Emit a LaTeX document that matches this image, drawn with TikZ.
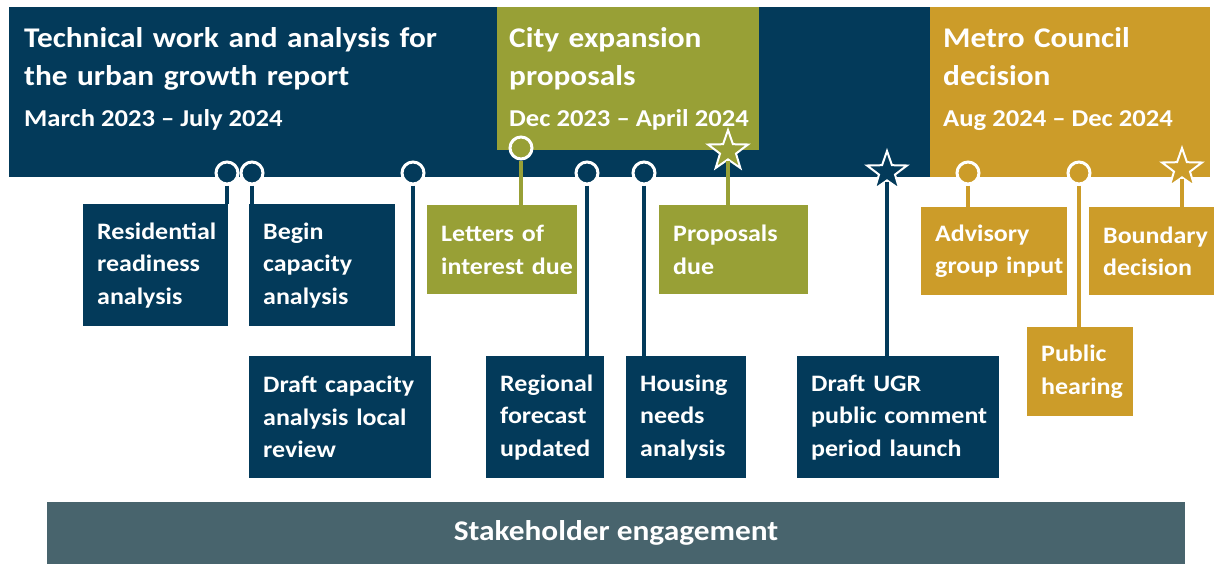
\documentclass[tikz,border=0pt]{standalone}
\usepackage{fontspec}
\setmainfont{Carlito}[FakeStretch=1.1]
\usepackage{tikz}
\usetikzlibrary{shapes.geometric}
\usepackage{xcolor}
\definecolor{navy}{HTML}{033A5A}
\definecolor{olive}{HTML}{98A036}
\definecolor{gold}{HTML}{CC9C29}
\definecolor{slate}{HTML}{48646D}
\hyphenpenalty=10000
\tikzstyle{band}=[anchor=north west,inner sep=0pt,minimum height=170pt]
\tikzstyle{head}=[anchor=base west,inner sep=0pt,align=left,text=white,font=\bfseries\fontsize{28.5}{38}\selectfont]
\tikzstyle{span}=[anchor=base west,inner sep=0pt,text=white,font=\bfseries\fontsize{24.2}{28}\selectfont]
\tikzstyle{event}=[anchor=north west,inner xsep=14pt,inner ysep=0pt,align=left,text=white,font=\bfseries\fontsize{23.6}{32.5}\selectfont]
\tikzstyle{dot}=[circle,draw=white,line width=3pt,minimum size=22pt,inner sep=0pt]
\tikzstyle{milestone}=[star,star points=5,star point ratio=2.5,draw=white,line width=2pt,minimum size=42pt,inner sep=0pt]
\tikzstyle{stem}=[line width=4pt]

\begin{document}
\begin{tikzpicture}[x=1pt,y=-1pt]
  \useasboundingbox (0,0) rectangle (1218,565);
  % phases
  \node[band,fill=navy,minimum width=922pt] (tech) at (9,7) {};
  \node[band,fill=olive,minimum width=262pt,minimum height=143pt] (city) at (497,7) {};
  \node[band,fill=gold,minimum width=280pt] (metro) at (930,7) {};
  \node[head,text width=460pt] (techT) at (24,47) {Technical work and analysis for\\the urban growth report};
  \node[span] (techD) at (24,126) {March 2023 -- July 2024};
  \node[head,text width=240pt] (cityT) at (509,47) {City expansion\\proposals};
  \node[span] (cityD) at (509,126) {Dec 2023 -- April 2024};
  \node[head,text width=260pt] (metroT) at (943,47) {Metro Council\\decision};
  \node[span] (metroD) at (943,126) {Aug 2024 -- Dec 2024};

  % events
  \node[event,fill=navy,text width=117pt,minimum height=122pt] (res) at (83,204) {Residential\\readiness\\analysis};
  \node[event,fill=navy,text width=118pt,minimum height=122pt] (begin) at (249,204) {Begin\\capacity\\analysis};
  \node[event,fill=navy,text width=154pt,minimum height=122pt] (draftcap) at (249,356) {Draft~capacity\\analysis~local\\review};
  \node[event,fill=olive,text width=122pt,minimum height=89pt] (letters) at (427,205) {Letters~of\\interest~due};
  \node[event,fill=olive,text width=121pt,minimum height=89pt] (proposals) at (659,205) {Proposals\\due};
  \node[event,fill=navy,text width=90pt,minimum height=122pt] (forecast) at (486,356) {Regional\\forecast\\updated};
  \node[event,fill=navy,text width=92pt,minimum height=122pt] (housing) at (626,356) {Housing\\needs\\analysis};
  \node[event,fill=navy,text width=174pt,minimum height=122pt] (draftugr) at (797,356) {Draft~UGR\\public~comment\\period~launch};
  \node[event,fill=gold,text width=118pt,minimum height=88pt] (advisory) at (921,207) {Advisory\\group~input};
  \node[event,fill=gold,text width=97pt,minimum height=88pt] (boundary) at (1089,207) {Boundary\\decision};
  \node[event,fill=gold,text width=78pt,minimum height=89pt] (hearing) at (1027,327) {Public\\hearing};

  % markers
  \node[dot,fill=navy] (mres) at (227,173) {};
  \node[dot,fill=navy] (mbegin) at (252,173) {};
  \node[dot,fill=navy] (mdraftcap) at (413,173) {};
  \node[dot,fill=olive] (mletters) at (521,148) {};
  \node[dot,fill=navy] (mforecast) at (587,173) {};
  \node[dot,fill=navy] (mhousing) at (644,173) {};
  \node[milestone,fill=olive] (mproposals) at (728,151) {};
  \node[milestone,fill=navy] (mdraftugr) at (887,172) {};
  \node[dot,fill=gold] (madvisory) at (968,173) {};
  \node[dot,fill=gold] (mhearing) at (1079,173) {};
  \node[milestone,fill=gold] (mboundary) at (1182,169) {};

  \draw[stem,navy] (mres.south) -- (mres.south |- res.north);
  \draw[stem,navy] (mbegin.south) -- (mbegin.south |- begin.north);
  \draw[stem,navy] (mdraftcap.south) -- (mdraftcap.south |- draftcap.north);
  \draw[stem,olive] (mletters.south) -- (mletters.south |- letters.north);
  \draw[stem,navy] (mforecast.south) -- (mforecast.south |- forecast.north);
  \draw[stem,navy] (mhousing.south) -- (mhousing.south |- housing.north);
  \draw[stem,olive] (mproposals.south) -- (mproposals.south |- proposals.north);
  \draw[stem,navy] (mdraftugr.south) -- (mdraftugr.south |- draftugr.north);
  \draw[stem,gold] (madvisory.south) -- (madvisory.south |- advisory.north);
  \draw[stem,gold] (mhearing.south) -- (mhearing.south |- hearing.north);
  \draw[stem,gold] (mboundary.south) -- (mboundary.south |- boundary.north);

  \node[fill=slate,minimum width=1138pt,minimum height=62pt,text=white,font=\bfseries\fontsize{28.5}{30}\selectfont] (stake) at (616,533) {Stakeholder engagement};
\end{tikzpicture}
\end{document}
